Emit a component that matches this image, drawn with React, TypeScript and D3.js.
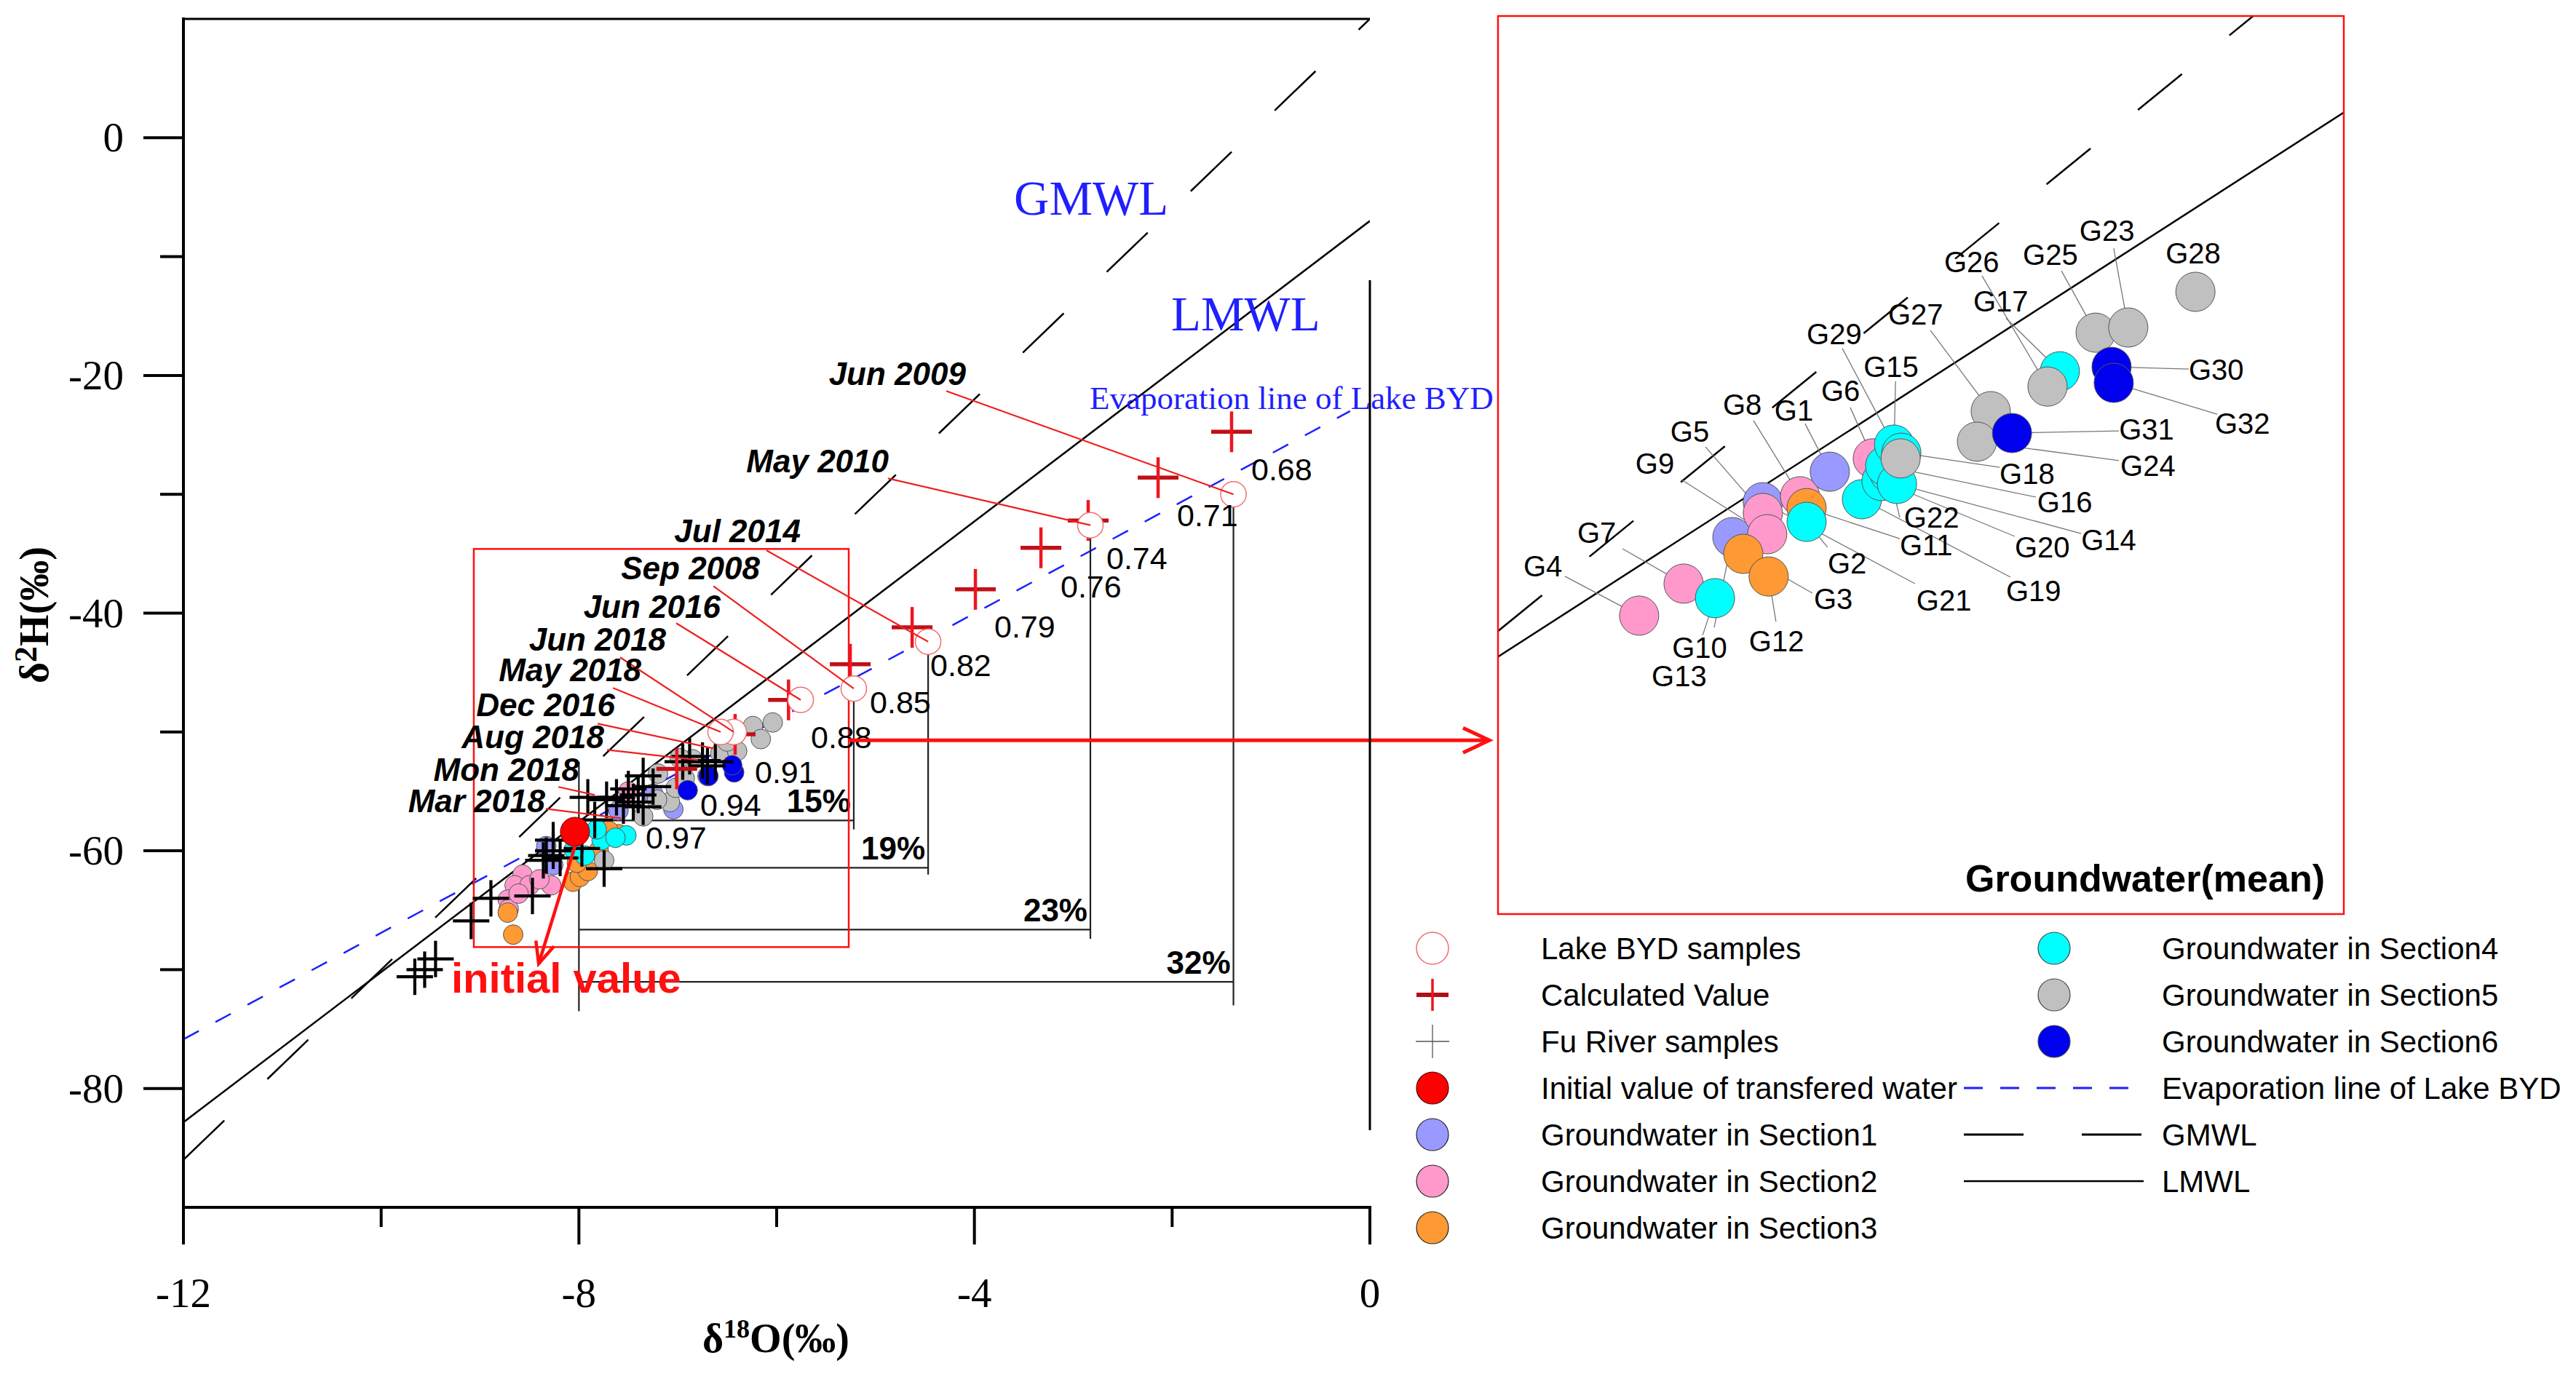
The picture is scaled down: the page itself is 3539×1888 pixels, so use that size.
import React from "react";
import * as d3 from "d3";

const SERIF = "'Liberation Serif', 'Times New Roman', serif";
const SANS = "'Liberation Sans', Arial, sans-serif";

// main plot axes
const xDomain = [-12, 0];
const yDomain = [-90, 10];
const xMajor = [-12, -8, -4, 0];
const xMinor = [-10, -6, -2];
const yMajor = [0, -20, -40, -60, -80];
const yMinor = [-10, -30, -50, -70];

// water lines [slope, intercept]
const gmwl = [8, 10];
const lmwl = [6.32, -7.0];
const evapLine = [4.48, -22.1];

// Lake BYD samples (d18O, d2H)
const lakeByd = [[-1.38, -30.0], [-2.827, -32.6], [-4.468, -42.4], [-5.22, -46.35], [-5.757, -47.3], [-6.434, -50.0], [-6.567, -50.0]];
// Rayleigh calculated values
const calculated = [[-1.399, -24.74], [-2.142, -28.6], [-2.849, -32.2], [-3.327, -34.5], [-3.99, -38.0], [-4.63, -41.2], [-5.256, -44.3], [-5.88, -47.3], [-6.42, -50.2], [-7.01, -53.1]];
// Fu River samples
const fuRiver = [[-9.66, -70.6], [-9.56, -70.0], [-9.45, -69.1], [-9.09, -65.9], [-8.89, -64.0], [-8.47, -63.8], [-8.36, -60.8], [-8.33, -60.4], [-8.26, -60.0], [-8.19, -60.6], [-8.26, -59.1], [-7.97, -59.8], [-7.745, -61.5], [-7.84, -57.4], [-7.91, -55.5], [-7.72, -55.7], [-7.62, -55.5], [-7.55, -56.2], [-7.45, -55.9], [-7.35, -56.3], [-7.4, -55.3], [-7.35, -53.7], [-7.25, -54.6], [-7.5, -54.8], [-6.95, -52.5], [-6.88, -52.05], [-6.75, -52.4], [-6.7, -52.85], [-6.62, -52.5]];
const initialValue = [-8.04, -58.4];

// groundwater samples by section
const section1 = [[-7.045, -56.5], [-8.26, -61.2], [-8.33, -59.6], [-7.25, -55.2], [-7.6, -56.6]];
const section2 = [[-8.57, -62.0], [-8.65, -62.9], [-8.5, -62.9], [-8.28, -62.9], [-8.72, -64.1], [-8.71, -64.9], [-8.61, -63.6], [-8.4, -62.4], [-7.5, -55.0]];
const section3 = [[-8.665, -67.05], [-8.72, -65.2], [-8.06, -62.6], [-7.99, -62.2], [-7.91, -61.7], [-7.8, -60.0], [-7.6, -58.6], [-7.7, -58.3], [-8.02, -61.0]];
const section4 = [[-7.77, -59.1], [-7.52, -58.7], [-7.94, -60.4], [-7.82, -58.2], [-7.63, -58.9], [-8.05, -59.9]];
const section5 = [[-7.745, -60.8], [-7.35, -57.1], [-7.08, -55.9], [-7.21, -55.7], [-7.02, -54.7], [-6.93, -53.9], [-6.7, -53.7], [-6.85, -52.3], [-6.98, -52.2], [-6.57, -51.8], [-6.4, -51.6], [-6.24, -49.5], [-6.16, -50.6], [-6.04, -49.2], [-6.5, -50.8], [-7.2, -53.5]];
const section6 = [[-6.43, -53.4], [-6.45, -52.8], [-6.69, -53.7], [-6.9, -54.9]];
const sectionColors = ["#9999ff", "#ff99cc", "#ff9933", "#00ffff", "#c0c0c0", "#0000ee"];

// sampling dates of lake samples
const dateNames = ["Jun 2009", "May 2010", "Jul 2014", "Sep 2008", "Jun 2016", "Jun 2018", "May 2018", "Dec 2016", "Aug 2018", "Mon 2018", "Mar 2018"];
const dateTextAt = [[-4.086, -20.82], [-4.866, -28.17], [-5.757, -34.05], [-6.169, -37.17], [-6.567, -40.42], [-7.119, -43.17], [-7.369, -45.74], [-7.634, -48.68], [-7.745, -51.38], [-7.995, -54.13], [-8.341, -56.77]];
const dateFrom = [[-4.285, -21.31], [-4.873, -28.66], [-6.103, -34.72], [-6.64, -37.72], [-7.016, -40.84], [-7.583, -43.72], [-7.656, -46.29], [-7.81, -49.3], [-7.715, -51.5], [-8.208, -54.62], [-8.334, -56.46]];
const dateTo = [[-1.38, -30.0], [-2.827, -32.6], [-4.468, -42.4], [-5.22, -46.35], [-5.757, -47.3], [-6.434, -50.0], [-6.567, -50.0], [-6.64, -51.38], [-6.795, -52.36], [-7.84, -55.3], [-7.575, -57.26]];

// remaining fraction labels
const fractions = ["0.68", "0.71", "0.74", "0.76", "0.79", "0.82", "0.85", "0.88", "0.91", "0.94", "0.97"];
const fractionAt = [[-1.2, -28.84], [-1.951, -32.7], [-2.665, -36.31], [-3.129, -38.7], [-3.799, -42.07], [-4.446, -45.32], [-5.057, -48.44], [-5.654, -51.38], [-6.221, -54.32], [-6.773, -57.07], [-7.325, -59.83]];

// evaporation percentages
const evapPercent = ["15%", "19%", "23%", "32%"];
const bracketX = [-5.22, -4.468, -2.827, -1.38];
const bracketY = [-57.44, -61.42, -66.63, -71.03];
const bracketTop = [-46.35, -42.4, -32.6, -30.0];
const bracketBottom = [-58.2, -62.0, -67.4, -73.0];
const bracketStart = -8;
const bracketStartRange = [-52.5, -73.5];

// zoom box
const zoomBoxX = [-9.063, -5.271];
const zoomBoxY = [-34.6, -68.1];
const arrowY = -50.7;
const initialArrowTip = [-8.407, -69.5];
const initialTextAt = [-9.291, -71.95];

// inset: groundwater means
const insetXDomain = [-9.5, -6.0];
const insetYDomain = [-77.5, -41.0];
const gwIds = Array.from({ length: 32 }, (_, i) => "G" + (i + 1));
const gwSection = [1, 4, 3, 2, 2, 2, 2, 2, 2, 4, 3, 3, 1, 4, 4, 4, 4, 4, 4, 4, 1, 4, 5, 5, 5, 5, 5, 5, 5, 6, 6, 6];
const gwD18O = [-8.127, -8.223, -8.485, -8.916, -8.404, -7.949, -8.732, -8.25, -8.386, -8.602, -8.223, -8.38, -8.53, -7.849, -7.861, -7.898, -7.175, -7.831, -7.994, -7.913, -8.404, -7.88, -6.892, -7.518, -7.027, -7.226, -7.461, -6.614, -7.834, -6.961, -7.373, -6.952];
const gwD2H = [-59.52, -61.56, -62.86, -65.37, -61.2, -58.98, -64.07, -60.52, -62.06, -64.66, -61.0, -63.78, -62.18, -60.02, -58.42, -59.28, -55.44, -58.75, -60.64, -59.9, -60.76, -59.58, -53.66, -58.3, -53.87, -56.06, -57.06, -52.21, -58.98, -55.26, -57.95, -55.91];
// label placement (px from point) and leader start
const gwLabelOffset = [[-76, -70], [29, 71], [97, 76], [-159, -54], [-127, -98], [-71, -79], [-146, -56], [-106, -112], [-181, -83], [-59, 82], [128, 65], [-27, 103], [-111, 205], [253, 91], [-42, -93], [209, 64], [-119, -82], [135, 43], [198, 140], [183, 105], [211, 149], [20, 75], [-67, -119], [197, 47], [-100, -93], [-142, -157], [-141, -119], [-41, -39], [-129, -157], [106, 18], [147, 9], [139, 70]];
const gwLeaderOffset = [[-34, -66], [29, 35], [95, 54], [-102, -54], [-79, -91], [-31, -70], [-84, -48], [-64, -104], [-118, -75], [-17, 51], [128, 42], [10, 62], [-25, 124], [253, 68], [2, -87], [207, 43], [-74, -73], [135, 20], [204, 107], [183, 76], [209, 112], [14, 61], [-20, -109], [195, 26], [-47, -85], [-90, -152], [-83, -111], null, [-80, -151], [106, 3], [147, -3], [142, 43]];
const gwDrawOrder = [13, 21, 5, 9, 3, 12, 4, 7, 10, 8, 11, 2, 1, 6, 19, 20, 22, 16, 14, 15, 18, 29, 17, 26, 27, 24, 31, 25, 23, 28, 30, 32];

const legendLeft = ["Lake BYD samples", "Calculated Value", "Fu River samples", "Initial value of transfered water", "Groundwater in Section1", "Groundwater in Section2", "Groundwater in Section3"];
const legendRight = ["Groundwater in Section4", "Groundwater in Section5", "Groundwater in Section6", "Evaporation line of Lake BYD", "GMWL", "LMWL"];

const BLUE = "#1f1fff";
const RED = "#ff1010";

function Cross({ cx, cy, s, color, hColor, w, hw }: any) {
  return (
    <g>
      <line x1={cx - s} x2={cx + s} y1={cy} y2={cy} stroke={hColor || color} strokeWidth={hw || w} />
      <line x1={cx} x2={cx} y1={cy - s} y2={cy + s} stroke={color} strokeWidth={w} />
    </g>
  );
}

function wline(p: number[], dom: number[], xs: any, ys: any) {
  return { x1: xs(dom[0]), y1: ys(p[0] * dom[0] + p[1]), x2: xs(dom[1]), y2: ys(p[0] * dom[1] + p[1]) };
}

export default function App() {
  const x = d3.scaleLinear().domain(xDomain).range([252, 1882]);
  const y = d3.scaleLinear().domain(yDomain).range([1659, 26]);
  const xi = d3.scaleLinear().domain(insetXDomain).range([2058, 3220]);
  const yi = d3.scaleLinear().domain(insetYDomain).range([1256, 22]);

  const sections = [section1, section2, section3, section4, section5, section6];
  const arrowX1 = x(zoomBoxX[1]);
  const arrowX2 = xi.range()[0] - 12;
  const ay = y(arrowY);

  return (
    <svg width={3539} height={1888} style={{ position: "absolute", left: 0, top: 0, background: "#fff" }}>
      <defs>
        <clipPath id="mainClip">
          <rect x={252} y={26} width={1630} height={1633} />
        </clipPath>
        <clipPath id="insetClip">
          <rect x={2058} y={22} width={1162} height={1234} />
        </clipPath>
      </defs>

      {/* ---------- main plot ---------- */}
      <g clipPath="url(#mainClip)">
        <line {...wline(gmwl, xDomain, x, y)} stroke="#000" strokeWidth={2.5} strokeDasharray="78 82" />
        <line {...wline(lmwl, xDomain, x, y)} stroke="#000" strokeWidth={2.5} />
        <line {...wline(evapLine, [-12, -0.2], x, y)} stroke={BLUE} strokeWidth={2.5} strokeDasharray="24 26" />
      </g>

      {/* evaporation brackets */}
      <line x1={x(bracketStart)} x2={x(bracketStart)} y1={y(bracketStartRange[0])} y2={y(bracketStartRange[1])} stroke="#222" strokeWidth={2.2} />
      {evapPercent.map((p, i) => (
        <g key={p}>
          <line x1={x(bracketStart)} x2={x(bracketX[i])} y1={y(bracketY[i])} y2={y(bracketY[i])} stroke="#222" strokeWidth={2.2} />
          <line x1={x(bracketX[i])} x2={x(bracketX[i])} y1={y(bracketTop[i])} y2={y(bracketBottom[i])} stroke="#222" strokeWidth={2.2} />
          <text x={x(bracketX[i]) - 4} y={y(bracketY[i]) - 11} textAnchor="end" fontFamily={SANS} fontWeight="bold" fontSize={44}>{p}</text>
        </g>
      ))}

      {/* zoom box */}
      <rect x={x(zoomBoxX[0])} y={y(zoomBoxY[0])} width={x(zoomBoxX[1]) - x(zoomBoxX[0])} height={y(zoomBoxY[1]) - y(zoomBoxY[0])} fill="none" stroke={RED} strokeWidth={2.5} />

      {/* groundwater samples */}
      {sections.map((pts, si) =>
        pts.map((d, i) => (
          <circle key={si + "-" + i} cx={x(d[0])} cy={y(d[1])} r={13.5} fill={sectionColors[si]} stroke="#555" strokeWidth={1} />
        ))
      )}

      {/* Fu River samples */}
      {fuRiver.map((d, i) => (
        <Cross key={"f" + i} cx={x(d[0])} cy={y(d[1])} s={25} color="#000" w={4.2} />
      ))}

      {/* initial value */}
      <circle cx={x(initialValue[0])} cy={y(initialValue[1])} r={20} fill="#ff0000" stroke="#600" strokeWidth={1} />

      {/* calculated values */}
      {calculated.map((d, i) => (
        <Cross key={"c" + i} cx={x(d[0])} cy={y(d[1])} s={28} color="#ee1520" hColor="#c01018" w={4.5} hw={5.5} />
      ))}

      {/* Lake BYD samples */}
      {lakeByd.map((d, i) => (
        <circle key={"l" + i} cx={x(d[0])} cy={y(d[1])} r={17.5} fill="#fff" stroke="#f07070" strokeWidth={1.5} />
      ))}

      {/* date labels with leaders */}
      {dateNames.map((t, i) => (
        <g key={t + i}>
          <line x1={x(dateFrom[i][0])} y1={y(dateFrom[i][1])} x2={x(dateTo[i][0])} y2={y(dateTo[i][1])} stroke="#ee2020" strokeWidth={2.2} />
          <text x={x(dateTextAt[i][0])} y={y(dateTextAt[i][1])} textAnchor="end" fontFamily={SANS} fontWeight="bold" fontStyle="italic" fontSize={44}>{t}</text>
        </g>
      ))}

      {/* fractions */}
      {fractions.map((t, i) => (
        <text key={t} x={x(fractionAt[i][0])} y={y(fractionAt[i][1])} fontFamily={SANS} fontSize={43}>{t}</text>
      ))}

      {/* initial value arrow + label */}
      <line x1={x(initialValue[0])} y1={y(initialValue[1]) + 20} x2={x(initialArrowTip[0])} y2={y(initialArrowTip[1])} stroke={RED} strokeWidth={4.5} />
      {(() => {
        const tx = x(initialArrowTip[0]), ty = y(initialArrowTip[1]);
        const ang = Math.atan2(ty - (y(initialValue[1]) + 20), tx - x(initialValue[0]));
        const L = 32, a = 0.42;
        return (
          <path d={`M${tx - L * Math.cos(ang - a)},${ty - L * Math.sin(ang - a)} L${tx},${ty} L${tx - L * Math.cos(ang + a)},${ty - L * Math.sin(ang + a)}`} fill="none" stroke={RED} strokeWidth={4.5} />
        );
      })()}
      <text x={x(initialTextAt[0])} y={y(initialTextAt[1])} fontFamily={SANS} fontWeight="bold" fontSize={58} fill={RED}>initial value</text>

      {/* line labels */}
      <text x={1393} y={295} fontFamily={SERIF} fontSize={67} fill={BLUE}>GMWL</text>
      <text x={1609} y={454} fontFamily={SERIF} fontSize={67} fill={BLUE}>LMWL</text>
      <text x={1497} y={562} fontFamily={SERIF} fontSize={45} fill={BLUE}>Evaporation line of Lake BYD</text>

      {/* arrow to inset */}
      <line x1={arrowX1} x2={arrowX2} y1={ay} y2={ay} stroke={RED} strokeWidth={5} />
      <path d={`M${arrowX2 - 36},${ay - 17} L${arrowX2},${ay} L${arrowX2 - 36},${ay + 17}`} fill="none" stroke={RED} strokeWidth={5} />

      {/* frame and axes */}
      <line x1={252} x2={1882} y1={26} y2={26} stroke="#000" strokeWidth={3} />
      <line x1={1882} x2={1882} y1={385} y2={1553} stroke="#000" strokeWidth={3} />
      <line x1={252} x2={252} y1={24} y2={1661} stroke="#000" strokeWidth={4} />
      <line x1={250} x2={1884} y1={1659} y2={1659} stroke="#000" strokeWidth={4} />
      {xMajor.map((v) => (
        <g key={"xm" + v}>
          <line x1={x(v)} x2={x(v)} y1={1659} y2={1710} stroke="#000" strokeWidth={4} />
          <text x={x(v)} y={1796} textAnchor="middle" fontFamily={SERIF} fontSize={57}>{v}</text>
        </g>
      ))}
      {xMinor.map((v) => (
        <line key={"xn" + v} x1={x(v)} x2={x(v)} y1={1659} y2={1686} stroke="#000" strokeWidth={4} />
      ))}
      {yMajor.map((v) => (
        <g key={"ym" + v}>
          <line x1={197} x2={252} y1={y(v)} y2={y(v)} stroke="#000" strokeWidth={4} />
          <text x={170} y={y(v) + 19} textAnchor="end" fontFamily={SERIF} fontSize={57}>{v}</text>
        </g>
      ))}
      {yMinor.map((v) => (
        <line key={"yn" + v} x1={220} x2={252} y1={y(v)} y2={y(v)} stroke="#000" strokeWidth={4} />
      ))}
      <text x={1066} y={1858} textAnchor="middle" fontFamily={SERIF} fontWeight="bold" fontSize={56}>
        δ<tspan dy={-20} fontSize={36}>18</tspan><tspan dy={20}>O(‰)</tspan>
      </text>
      <text transform="translate(66,845) rotate(-90)" textAnchor="middle" fontFamily={SERIF} fontWeight="bold" fontSize={56}>
        δ<tspan dy={-16} fontSize={44}>2</tspan><tspan dy={16}>H(‰)</tspan>
      </text>

      {/* ---------- inset ---------- */}
      <g clipPath="url(#insetClip)">
        <line {...wline(gmwl, insetXDomain, xi, yi)} stroke="#000" strokeWidth={2.5} strokeDasharray="78 84" />
        <line {...wline(lmwl, insetXDomain, xi, yi)} stroke="#000" strokeWidth={2.5} />
      </g>
      {gwIds.map((id, i) => {
        const cx = xi(gwD18O[i]), cy = yi(gwD2H[i]);
        const lo = gwLeaderOffset[i];
        return lo ? <line key={"gl" + id} x1={cx + lo[0]} y1={cy + lo[1]} x2={cx} y2={cy} stroke="#777" strokeWidth={1.3} /> : null;
      })}
      {gwDrawOrder.map((n) => {
        const i = n - 1;
        return (
          <circle key={"gc" + i} cx={xi(gwD18O[i])} cy={yi(gwD2H[i])} r={27} fill={sectionColors[gwSection[i] - 1]} stroke="#555" strokeWidth={1} />
        );
      })}
      {gwIds.map((id, i) => {
        const cx = xi(gwD18O[i]), cy = yi(gwD2H[i]);
        const o = gwLabelOffset[i];
        return (
          <text key={"gt" + id} x={cx + o[0]} y={cy + o[1]} fontFamily={SANS} fontSize={40}>{id}</text>
        );
      })}
      <text x={3194} y={1225} textAnchor="end" fontFamily={SANS} fontWeight="bold" fontSize={52}>Groundwater(mean)</text>
      <rect x={2058} y={22} width={1162} height={1234} fill="none" stroke={RED} strokeWidth={2.5} />

      {/* ---------- legend ---------- */}
      {legendLeft.map((t, i) => {
        const cy = 1303 + i * 64;
        const cx = 1968;
        let sym: any = null;
        if (i === 0) sym = <circle cx={cx} cy={cy} r={22} fill="#fff" stroke="#f07070" strokeWidth={1.5} />;
        else if (i === 1) sym = <Cross cx={cx} cy={cy} s={22} color="#ee1520" hColor="#b01018" w={3.5} hw={6} />;
        else if (i === 2) sym = <Cross cx={cx} cy={cy} s={23} color="#555" w={1.3} />;
        else if (i === 3) sym = <circle cx={cx} cy={cy} r={22} fill="#ff0000" stroke="#400" strokeWidth={1.2} />;
        else sym = <circle cx={cx} cy={cy} r={22} fill={sectionColors[i - 4]} stroke="#222" strokeWidth={1.2} />;
        return (
          <g key={t}>
            {sym}
            <text x={2117} y={cy + 15} fontFamily={SANS} fontSize={42}>{t}</text>
          </g>
        );
      })}
      {legendRight.map((t, i) => {
        const cy = 1303 + i * 64;
        const cx = 2822;
        let sym: any = null;
        if (i < 3) sym = <circle cx={cx} cy={cy} r={22} fill={sectionColors[i + 3]} stroke="#444" strokeWidth={1.2} />;
        else if (i === 3) sym = <line x1={2698} x2={2945} y1={cy} y2={cy} stroke={BLUE} strokeWidth={3} strokeDasharray="26 24" />;
        else if (i === 4) sym = <line x1={2698} x2={2942} y1={cy} y2={cy} stroke="#000" strokeWidth={3} strokeDasharray="82 80" />;
        else sym = <line x1={2698} x2={2945} y1={cy} y2={cy} stroke="#000" strokeWidth={2.5} />;
        return (
          <g key={t}>
            {sym}
            <text x={2970} y={cy + 15} fontFamily={SANS} fontSize={42}>{t}</text>
          </g>
        );
      })}
    </svg>
  );
}
